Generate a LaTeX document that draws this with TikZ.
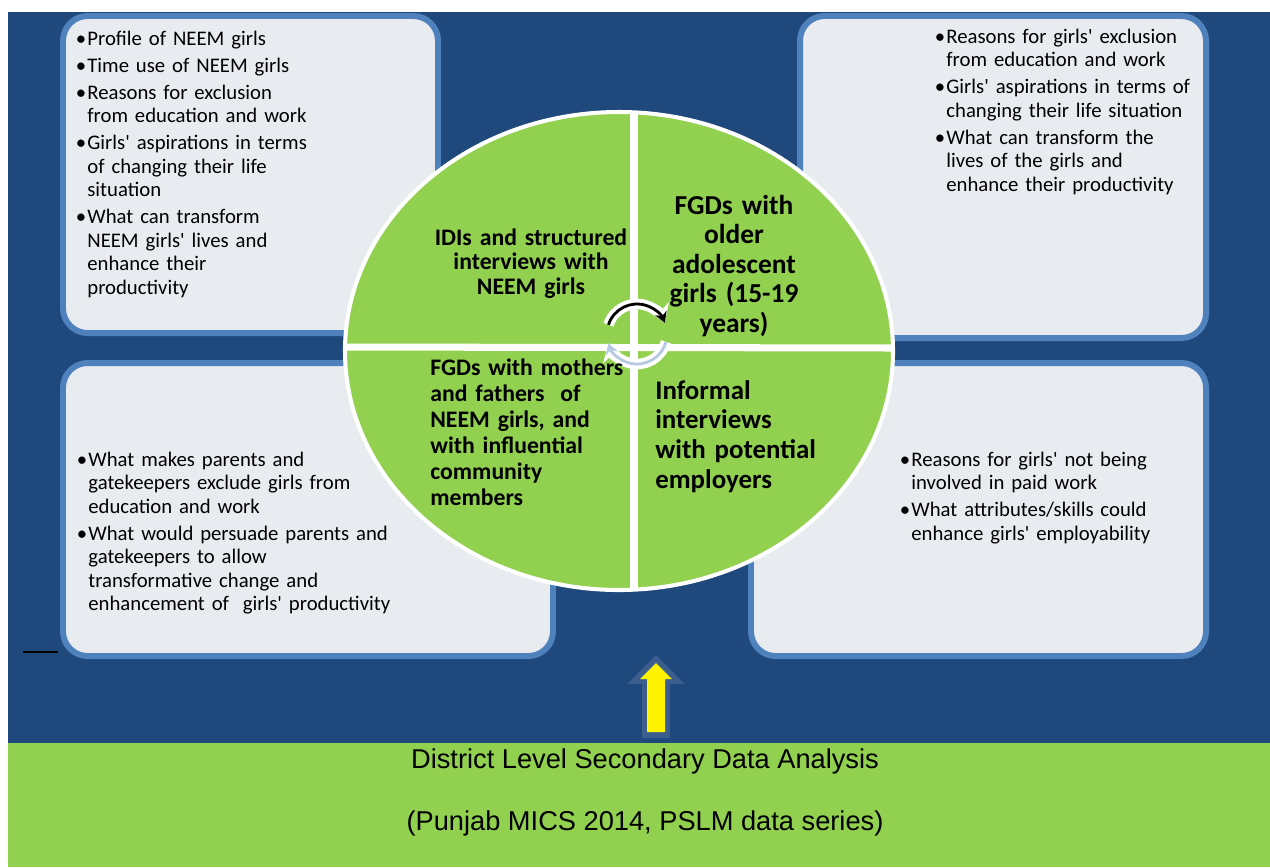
\documentclass[tikz,border=0pt]{standalone}
\usepackage{fontspec}
\setmainfont{Carlito}[Ligatures=TeXOff]
\newfontfamily\bandfont{Liberation Sans}
\usetikzlibrary{arrows.meta}

\definecolor{panelblue}{HTML}{1F497D}
\definecolor{boxfill}{HTML}{E8EBF0}
\definecolor{boxline}{HTML}{4F81BD}
\definecolor{leafgreen}{HTML}{92D050}
\definecolor{cycleblue}{HTML}{B7C8E1}
\definecolor{glowblue}{HTML}{3B5E8F}

% bullet point with hanging indent (items are split by blank lines)
\newcommand{\bitem}{\hangindent=5.7pt\hangafter=1\noindent\makebox[5.7pt][l]{\hspace{-0.9pt}\textbullet}}

\tikzset{
  infobox/.style={fill=boxfill, draw=boxline, line width=3.4pt, rounded corners=14pt},
  bullets/.style={anchor=base west, inner sep=0pt, text width=#1, align=left,
    font=\fontsize{11.8}{13.4}\selectfont,
    execute at begin node={\setlength{\parskip}{2pt}}},
  quarter/.style={anchor=base, inner sep=0pt, text width=#1, font=\bfseries},
  bandtext/.style={anchor=base, inner sep=0pt, font=\bandfont\fontsize{15.5}{18}\selectfont},
}

\begin{document}
\begin{tikzpicture}[x=0.02cm, y=-0.02cm]
  \useasboundingbox (0,0) rectangle (1270,867);
  \fill[white] (0,0) rectangle (1270,867);

  % Blue panel
  \fill[panelblue] (8,12) rectangle (1270,743);

  % Four question boxes
  \filldraw[infobox] (63,16) rectangle (438,333);
  \filldraw[infobox] (800,16) rectangle (1206,338);
  \filldraw[infobox] (63,363) rectangle (553,656);
  \filldraw[infobox] (751,363) rectangle (1206,656);

  % stray rule at the left
  \draw[line width=1.2pt] (23,652) -- (58,652);

  % Methods circle, split in four
  \fill[leafgreen] (619,351) ellipse [x radius=274, y radius=239];
  \begin{scope}
    \clip (619,351) ellipse [x radius=274, y radius=239];
    \draw[white, line width=4pt] (634,100) -- (634,600);
    \draw[white, line width=4pt] (340,347) -- (900,348);
  \end{scope}
  \draw[white, line width=2.3pt] (619,351) ellipse [x radius=274, y radius=239];

  % Cycle arrows in the middle
  \draw[white, line width=6pt, -{Stealth[length=10pt,width=13pt]}]
    (637,334) ++(198:30) arc [start angle=198, end angle=338, radius=30];
  \draw[black, line width=1.6pt, -{Stealth[length=6pt,width=7pt]}]
    (637,334) ++(198:30) arc [start angle=198, end angle=338, radius=30];
  \draw[white, line width=6pt, -{Stealth[length=10pt,width=13pt]}]
    (637,334) ++(15:30) arc [start angle=15, end angle=162, radius=30];
  \draw[cycleblue, line width=1.6pt, -{Stealth[length=6pt,width=7pt]}]
    (637,334) ++(15:30) arc [start angle=15, end angle=162, radius=30];

  % Quarter labels
  \node[quarter=140pt, align=center, font=\bfseries\fontsize{13.5}{14.2}\selectfont]
    (idi) at (531,245) {IDIs and structured\\ interviews with\\ NEEM girls};
  \node[quarter=110pt, align=center, font=\bfseries\fontsize{15.6}{16.8}\selectfont]
    (fgdgirls) at (734,214) {FGDs with\\ older\\ adolescent\\ girls (15-19\\ years)};
  \node[quarter=130pt, align=left, anchor=base west, font=\bfseries\fontsize{13.5}{14.9}\selectfont]
    (fgdparents) at (430,375) {FGDs with mothers\\ and fathers~ of\\ NEEM girls, and\\ with influential\\ community\\ members};
  \node[quarter=130pt, align=left, anchor=base west, font=\bfseries\fontsize{15.3}{16.9}\selectfont]
    (informal) at (655,399) {Informal\\ interviews\\ with potential\\ employers};

  % Box contents
  \node[bullets=200pt] (girlsq) at (77,45) {%
    \bitem Profile of NEEM girls

    \bitem Time use of NEEM girls

    \bitem Reasons for exclusion\newline from education and work

    \bitem Girls' aspirations in terms\newline of changing their life\newline situation

    \bitem What can transform\newline NEEM girls' lives and\newline enhance their\newline productivity\par};
  \node[bullets=200pt] (olderq) at (936,43) {%
    \bitem Reasons for girls' exclusion\newline from education and work

    \bitem Girls' aspirations in terms of\newline changing their life situation

    \bitem What can transform the\newline lives of the girls and\newline enhance their productivity\par};
  \node[bullets=220pt] (parentsq) at (78,466) {%
    \bitem What makes parents and\newline gatekeepers exclude girls from\newline education and work

    \bitem What would persuade parents and\newline gatekeepers to allow\newline transformative change and\newline enhancement of~ girls' productivity\par};
  \node[bullets=200pt] (employq) at (901,466) {%
    \bitem Reasons for girls' not being\newline involved in paid work

    \bitem What attributes/skills could\newline enhance girls' employability\par};

  % Arrow up from the data band
  \fill[glowblue] (656,655) -- (685,684) -- (670,684) -- (670,738)
    -- (642,738) -- (642,684) -- (627,684) -- cycle;
  \fill[yellow] (656,663) -- (672,679) -- (665,679) -- (665,732)
    -- (647,732) -- (647,679) -- (640,679) -- cycle;

  % Secondary data band
  \fill[leafgreen] (8,743) rectangle (1270,867);
  \node[bandtext] (district) at (645,768) {District Level Secondary Data Analysis};
  \node[bandtext] (sources) at (645,830) {(Punjab MICS 2014, PSLM data series)};
\end{tikzpicture}
\end{document}
